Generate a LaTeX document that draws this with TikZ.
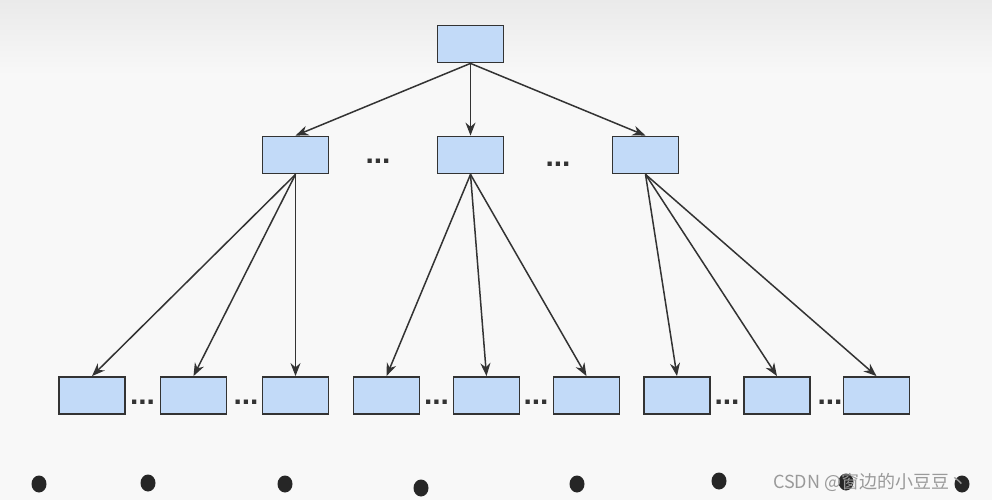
\documentclass[tikz,border=0pt]{standalone}
\usepackage{fontspec}
\setmainfont{Liberation Sans}
\newfontfamily\cjk{Noto Sans CJK SC}
\usetikzlibrary{arrows.meta}
\definecolor{boxfill}{HTML}{C2DAF8}
\definecolor{edgec}{HTML}{333333}
\definecolor{bgc}{HTML}{F8F8F8}
\definecolor{bgtop}{HTML}{EAEAEA}
\definecolor{wmark}{HTML}{9A9A9A}
\begin{document}
\begin{tikzpicture}[x=1pt,y=-1pt,
  box/.style={draw=edgec, line width=1.8pt, fill=boxfill, minimum width=66pt, minimum height=37pt, inner sep=0pt},
  conn/.style={draw=edgec, line width=1.5pt, -{Stealth[length=13pt,width=10pt]}},
  ell/.style={font=\bfseries\fontsize{30}{30}\selectfont, text=edgec, inner sep=0pt},
  blob/.style={fill=black!85}
]
\useasboundingbox (0,0) rectangle (992,500);
\fill[bgc] (0,0) rectangle (992,500);
\shade[top color=bgtop, bottom color=bgc] (0,0) rectangle (992,75);

% top
\node[box] (r) at (470.5,44) {};
% middle
\node[box] (m1) at (295.5,155) {};
\node[box] (m2) at (470.5,155) {};
\node[box] (m3) at (645.5,155) {};
\node[ell] (e1) at (378,161) {...};
\node[ell] (e2) at (558,164) {...};
% bottom
\node[box] (b1) at (92,395.5) {};
\node[box] (b2) at (193.5,395.5) {};
\node[box] (b3) at (295.5,395.5) {};
\node[box] (b4) at (386.5,395.5) {};
\node[box] (b5) at (486.5,395.5) {};
\node[box] (b6) at (586.5,395.5) {};
\node[box] (b7) at (677,395.5) {};
\node[box] (b8) at (777,395.5) {};
\node[box] (b9) at (876.5,395.5) {};
\node[ell] (f1) at (142.5,402) {...};
\node[ell] (f2) at (246,402) {...};
\node[ell] (f3) at (436.5,402) {...};
\node[ell] (f4) at (536,402) {...};
\node[ell] (f5) at (727,402) {...};
\node[ell] (f6) at (830,402) {...};

% connectors
\foreach \t in {m1,m2,m3} \draw[conn] (r.south) -- (\t.north);
\foreach \t in {b1,b2,b3} \draw[conn] (m1.south) -- (\t.north);
\foreach \t in {b4,b5,b6} \draw[conn] (m2.south) -- (\t.north);
\foreach \t in {b7,b8,b9} \draw[conn] (m3.south) -- (\t.north);

% bottom blobs
\foreach \x/\y in {39/484,148/483,285/484,421/488,577/484,719/481,846/482,962/484}
  \fill[blob] (\x,\y) ellipse [x radius=7.5, y radius=8.5];

% watermark
\node[anchor=west, inner sep=0pt, text=wmark, font=\cjk\fontsize{18}{18}\selectfont] (wm) at (773,482) {CSDN @窗边的小豆豆丶};
\end{tikzpicture}
\end{document}
